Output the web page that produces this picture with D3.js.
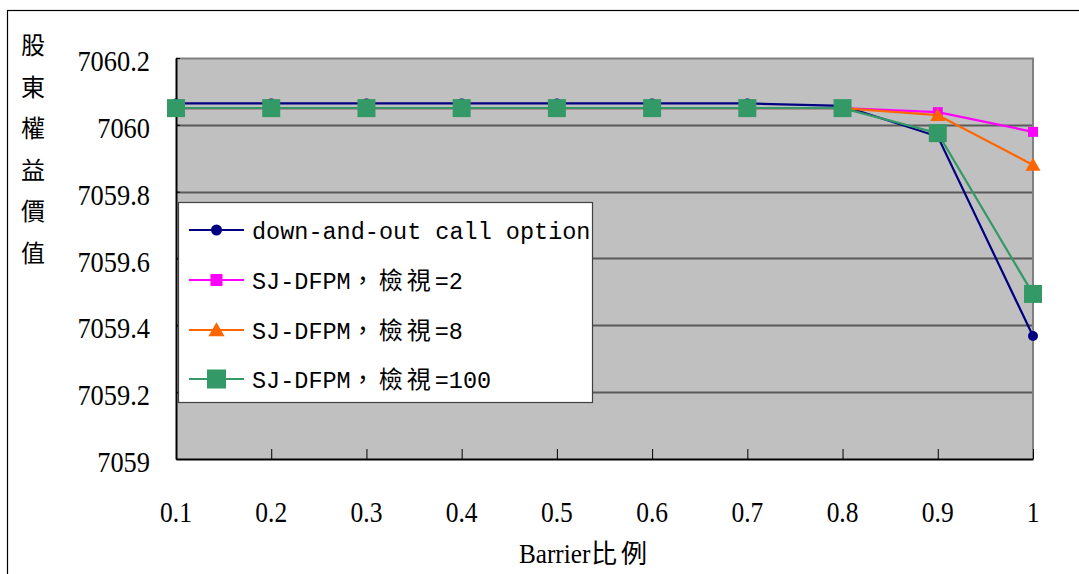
<!DOCTYPE html>
<html>
<head>
<meta charset="utf-8">
<script src="https://cdn.jsdelivr.net/npm/d3@7"></script>
<style>
  html, body { margin: 0; padding: 0; background: #fff; }
  svg { display: block; }
</style>
</head>
<body>
<svg id="chart" width="1079" height="574"></svg>
<script>
// Barrier ratio categories on the x axis
const barrierRatios = ["0.1", "0.2", "0.3", "0.4", "0.5", "0.6", "0.7", "0.8", "0.9", "1"];

// Equity value per model
const downAndOutCall = [7060.064, 7060.064, 7060.064, 7060.064, 7060.064, 7060.064, 7060.064, 7060.057, 7059.965, 7059.368];
const sjdfpm2   = [7060.05, 7060.05, 7060.05, 7060.05, 7060.05, 7060.05, 7060.05, 7060.05, 7060.038, 7059.979];
const sjdfpm8   = [7060.05, 7060.05, 7060.05, 7060.05, 7060.05, 7060.05, 7060.05, 7060.05, 7060.029, 7059.880];
const sjdfpm100 = [7060.05, 7060.05, 7060.05, 7060.05, 7060.05, 7060.05, 7060.05, 7060.05, 7059.975, 7059.494];

const seriesNames = ["down-and-out call option", "SJ-DFPM，檢視=2", "SJ-DFPM，檢視=8", "SJ-DFPM，檢視=100"];

// y axis ticks
const yTicks = [7059, 7059.2, 7059.4, 7059.6, 7059.8, 7060, 7060.2];
const yTickLabels = ["7059", "7059.2", "7059.4", "7059.6", "7059.8", "7060", "7060.2"];

const yTitle = "股東權益價值";
const xTitleLatin = "Barrier";
const xTitleCjk = "比例";

const series = [
  { name: seriesNames[0], values: downAndOutCall, color: "#000080", marker: "circle", size: 5, legendSize: 5.5 },
  { name: seriesNames[1], values: sjdfpm2, color: "#FF00FF", marker: "square", size: 10, legendSize: 12 },
  { name: seriesNames[2], values: sjdfpm8, color: "#FF6600", marker: "triangle", size: 13, legendSize: 14 },
  { name: seriesNames[3], values: sjdfpm100, color: "#339966", marker: "square", size: 18, legendSize: 19 }
];

const svg = d3.select("#chart");

// Outer chart frame (runs past the right and bottom edges of the page)
svg.append("rect")
  .attr("x", 7.5).attr("y", 10.5)
  .attr("width", 1100).attr("height", 600)
  .attr("fill", "#fff").attr("stroke", "#000").attr("stroke-width", 1.2);

const plot = { left: 176, right: 1033, top: 58, bottom: 459 };

const x = d3.scalePoint().domain(barrierRatios).range([plot.left, plot.right]);
const y = d3.scaleLinear().domain([7059, 7060.2]).range([plot.bottom, plot.top]);

// Plot background
svg.append("rect")
  .attr("x", plot.left).attr("y", plot.top)
  .attr("width", plot.right - plot.left).attr("height", plot.bottom - plot.top)
  .attr("fill", "#C0C0C0");

// Horizontal gridlines
svg.append("g")
  .selectAll("line")
  .data(yTicks.filter(t => t > 7059 && t < 7060.2))
  .join("line")
  .attr("x1", plot.left).attr("x2", plot.right)
  .attr("y1", d => Math.round(y(d)) + 0.5).attr("y2", d => Math.round(y(d)) + 0.5)
  .attr("stroke", "#5a5a5a").attr("stroke-width", 2);

// Plot top and right border
svg.append("path")
  .attr("d", `M${plot.left},${plot.top + 0.5}H${plot.right}V${plot.bottom}`)
  .attr("fill", "none")
  .attr("stroke", "#808080").attr("stroke-width", 2);

// Axes (ticks inside the plot)
const xAxis = d3.axisBottom(x).tickSizeInner(-10).tickSizeOuter(0).tickFormat("");
svg.append("g")
  .attr("transform", `translate(0,${plot.bottom})`)
  .call(xAxis)
  .call(g => g.select(".domain").attr("stroke", "#000").attr("stroke-width", 2))
  .call(g => g.selectAll(".tick line").attr("stroke", "#000").attr("stroke-width", 1));

const yAxis = d3.axisLeft(y).tickValues(yTicks).tickSizeInner(-4).tickSizeOuter(0).tickFormat("");
svg.append("g")
  .attr("transform", `translate(${plot.left},0)`)
  .call(yAxis)
  .call(g => g.select(".domain").attr("stroke", "#000").attr("stroke-width", 2))
  .call(g => g.selectAll(".tick line").attr("stroke", "#000").attr("stroke-width", 1));

// Tick labels, slightly condensed serif
const tickFont = "'Liberation Serif', 'Times New Roman', serif";
svg.append("g")
  .selectAll("text")
  .data(yTicks)
  .join("text")
  .attr("transform", d => `translate(150,${y(d) + 13}) scale(0.88,1)`)
  .attr("text-anchor", "end")
  .attr("font-family", tickFont).attr("font-size", 30)
  .attr("fill", "#000")
  .text((d, i) => yTickLabels[i]);

svg.append("g")
  .selectAll("text")
  .data(barrierRatios)
  .join("text")
  .attr("transform", d => `translate(${x(d)},${522}) scale(0.85,1)`)
  .attr("text-anchor", "middle")
  .attr("font-family", tickFont).attr("font-size", 30)
  .attr("fill", "#000")
  .text(d => d);

// Axis titles
const cjkFont = "'Noto Sans CJK TC', 'Noto Sans CJK SC', sans-serif";
svg.append("g")
  .selectAll("text")
  .data(Array.from(yTitle))
  .join("text")
  .attr("x", 33).attr("y", (d, i) => 54 + i * 41.6)
  .attr("text-anchor", "middle")
  .attr("font-family", cjkFont).attr("font-size", 24)
  .attr("fill", "#000")
  .text(d => d);

const xt = svg.append("g").attr("transform", "translate(519,563)");
xt.append("text")
  .attr("transform", "scale(0.9,1)")
  .attr("font-family", tickFont).attr("font-size", 28)
  .attr("fill", "#000")
  .text(xTitleLatin);
xt.append("text")
  .attr("x", 72)
  .attr("font-family", cjkFont).attr("font-size", 26)
  .attr("letter-spacing", 4)
  .attr("fill", "#000")
  .text(xTitleCjk);

// Marker drawing
function drawMarker(sel, s, size) {
  if (s.marker === "circle") {
    sel.append("circle").attr("r", size).attr("fill", s.color);
  } else if (s.marker === "square") {
    sel.append("rect").attr("x", -size / 2).attr("y", -size / 2)
      .attr("width", size).attr("height", size).attr("fill", s.color);
  } else {
    const h = size;
    sel.append("path")
      .attr("d", `M0,${-h * 0.55}L${h * 0.58},${h * 0.45}L${-h * 0.58},${h * 0.45}Z`)
      .attr("fill", s.color);
  }
}

const line = d3.line().x((d, i) => x(barrierRatios[i])).y(d => y(d));

series.forEach(s => {
  const g = svg.append("g");
  g.append("path")
    .attr("d", line(s.values))
    .attr("fill", "none").attr("stroke", s.color).attr("stroke-width", 2.2);
  g.selectAll("g.pt")
    .data(s.values)
    .join("g").attr("class", "pt")
    .attr("transform", (d, i) => `translate(${x(barrierRatios[i])},${y(d)})`)
    .each(function () { drawMarker(d3.select(this), s, s.size); });
});

// Legend
const legend = svg.append("g");
legend.append("rect")
  .attr("x", 178.5).attr("y", 202.5)
  .attr("width", 414).attr("height", 200)
  .attr("fill", "#fff").attr("stroke", "#404040").attr("stroke-width", 1.2);

const legendRows = [230, 280, 330, 379];
const monoFont = "'Liberation Mono', 'DejaVu Sans Mono', monospace";
series.forEach((s, i) => {
  const row = legend.append("g").attr("transform", `translate(0,${legendRows[i]})`);
  row.append("line").attr("x1", 189).attr("x2", 244)
    .attr("stroke", s.color).attr("stroke-width", 2.2);
  const m = row.append("g").attr("transform", "translate(216.5,0)");
  drawMarker(m, s, s.legendSize);
  const t = row.append("text").attr("x", 252).attr("y", 9)
    .attr("font-family", monoFont).attr("font-size", 23.5).attr("fill", "#000");
  // split into Latin and CJK runs so the wide characters use a CJK face
  const runs = s.name.match(/[\u3000-\u9fff\uff00-\uffef]+|[^\u3000-\u9fff\uff00-\uffef]+/g);
  runs.forEach(r => {
    const isCjk = /[\u3000-\u9fff\uff00-\uffef]/.test(r);
    t.append("tspan")
      .attr("font-family", isCjk ? cjkFont : monoFont)
      .attr("font-size", isCjk ? 24 : 23.5)
      .attr("letter-spacing", isCjk ? 4 : 0)
      .text(r);
  });
});
</script>
</body>
</html>
